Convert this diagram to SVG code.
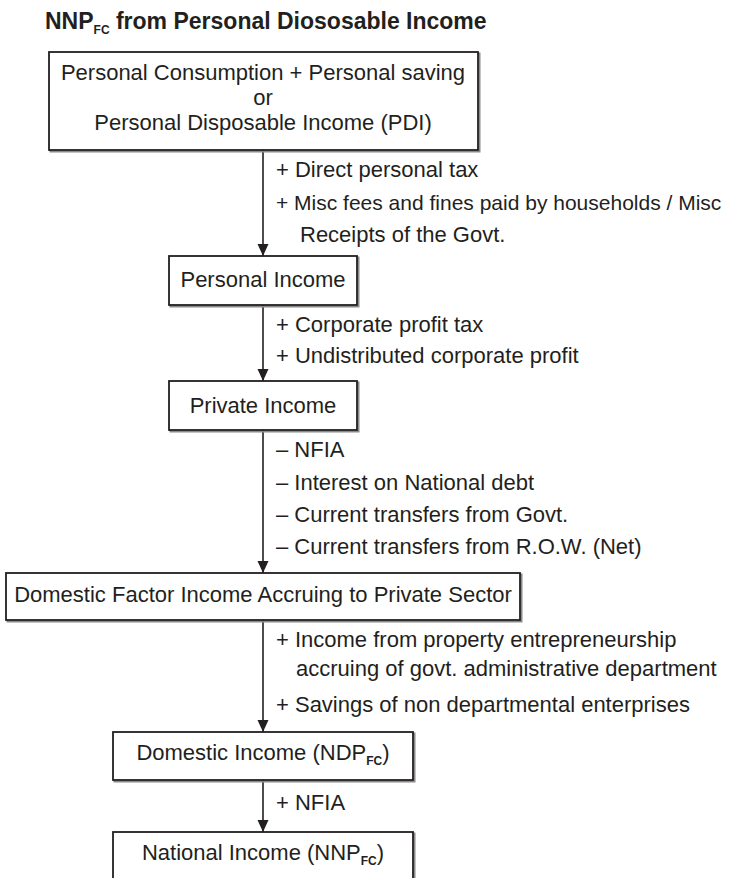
<svg xmlns="http://www.w3.org/2000/svg" width="740" height="878" viewBox="0 0 740 878">
<style>
  text { font-family: "Liberation Sans", Arial, sans-serif; fill: #231f20; }
  .title { font-size: 23px; font-weight: bold; }
  .node { font-size: 22px; text-anchor: middle; }
  .lbl { font-size: 22px; }
  .lbl-long { font-size: 21px; }
  .sub { font-size: 12px; font-weight: bold; }
  .shadow { fill: none; stroke: #8a8a8a; stroke-width: 2; }
  .box { fill: #ffffff; stroke: #231f20; stroke-width: 1.8; }
  .edge { stroke: #231f20; stroke-width: 1.6; fill: none; marker-end: url(#arrow); }
</style>
<defs>
  <marker id="arrow" viewBox="0 0 12 12" refX="12" refY="6" markerWidth="12" markerHeight="12" markerUnits="userSpaceOnUse" orient="auto">
    <path d="M0,0.5 L12,6 L0,11.5 Z" fill="#231f20"/>
  </marker>
</defs>
<rect width="740" height="878" fill="#ffffff"/>

<text class="title" x="45" y="29">NNP<tspan class="sub" dy="5">FC</tspan><tspan dy="-5"> from Personal Diososable Income</tspan></text>

<g id="connectors">
  <line class="edge" x1="263" y1="150" x2="263" y2="256"/>
  <line class="edge" x1="263" y1="305" x2="263" y2="381"/>
  <line class="edge" x1="263" y1="430" x2="263" y2="573"/>
  <line class="edge" x1="263" y1="620" x2="263" y2="732"/>
  <line class="edge" x1="263" y1="780" x2="263" y2="832"/>
  <g id="labels">
    <text class="lbl" x="276" y="177">+ Direct personal tax</text>
    <text class="lbl-long" x="276" y="210">+ Misc fees and fines paid by households / Misc</text>
    <text class="lbl" x="300" y="242">Receipts of the Govt.</text>
    <text class="lbl" x="276" y="332">+ Corporate profit tax</text>
    <text class="lbl" x="276" y="363">+ Undistributed corporate profit</text>
    <text class="lbl" x="276" y="457">– NFIA</text>
    <text class="lbl" x="276" y="490">– Interest on National debt</text>
    <text class="lbl" x="276" y="522">– Current transfers from Govt.</text>
    <text class="lbl" x="276" y="554">– Current transfers from R.O.W. (Net)</text>
    <text class="lbl" x="276" y="647">+ Income from property entrepreneurship</text>
    <text class="lbl" x="296" y="676">accruing of govt. administrative department</text>
    <text class="lbl" x="276" y="712">+ Savings of non departmental enterprises</text>
    <text class="lbl" x="276" y="810">+ NFIA</text>
  </g>
</g>

<g id="pdi">
  <rect class="shadow" x="50.5" y="53.5" width="429" height="98"/>
  <rect class="box" x="49" y="52" width="429" height="98"/>
  <text class="node" x="263" y="80">Personal Consumption + Personal saving</text>
  <text class="node" x="263" y="105">or</text>
  <text class="node" x="263" y="130">Personal Disposable Income (PDI)</text>
</g>

<g id="personal-income">
  <rect class="shadow" x="170.5" y="257.5" width="188" height="49"/>
  <rect class="box" x="169" y="256" width="188" height="49"/>
  <text class="node" x="263" y="287">Personal Income</text>
</g>

<g id="private-income">
  <rect class="shadow" x="170.5" y="382.5" width="188" height="49"/>
  <rect class="box" x="169" y="381" width="188" height="49"/>
  <text class="node" x="263" y="413">Private Income</text>
</g>

<g id="domestic-factor-income">
  <rect class="shadow" x="7.5" y="574.5" width="514" height="47"/>
  <rect class="box" x="6" y="573" width="514" height="47"/>
  <text class="node" x="263" y="602">Domestic Factor Income Accruing to Private Sector</text>
</g>

<g id="domestic-income">
  <rect class="shadow" x="114.5" y="733.5" width="300" height="48"/>
  <rect class="box" x="113" y="732" width="300" height="48"/>
  <text class="node" x="263" y="760">Domestic Income (NDP<tspan class="sub" dy="5">FC</tspan><tspan dy="-5">)</tspan></text>
</g>

<g id="national-income">
  <rect class="shadow" x="114.5" y="833.5" width="300" height="50"/>
  <rect class="box" x="113" y="832" width="300" height="50"/>
  <text class="node" x="263" y="860">National Income (NNP<tspan class="sub" dy="5">FC</tspan><tspan dy="-5">)</tspan></text>
</g>
</svg>
